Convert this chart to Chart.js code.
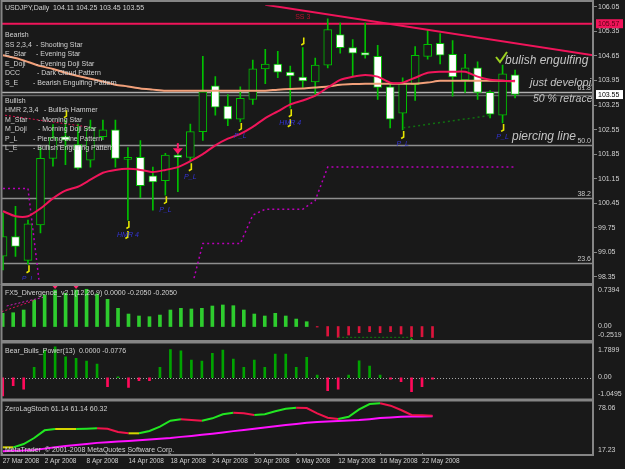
<!DOCTYPE html>
<html>
<head>
<meta charset="utf-8">
<title>USDJPY Daily</title>
<script src="https://cdn.jsdelivr.net/npm/chart.js@4.4.1/dist/chart.umd.min.js"></script>
<style>
  html, body { margin: 0; padding: 0; background: #191919; }
  #screen { position: relative; width: 625px; height: 469px; overflow: hidden; background: #191919; }
  #screen canvas { position: absolute; left: 0; }
</style>
</head>
<body>
<div id="screen">
  <canvas id="priceChart" width="625" height="285" style="top:0px"></canvas>
  <canvas id="macdChart" width="625" height="58" style="top:284px"></canvas>
  <canvas id="powerChart" width="625" height="58" style="top:342px"></canvas>
  <canvas id="stochChart" width="625" height="69" style="top:400px"></canvas>
</div>
<script>
// ---- data ----
const DATES = ['27 Mar 2008', '28 Mar 2008', '31 Mar 2008', '1 Apr 2008', '2 Apr 2008', '3 Apr 2008', '4 Apr 2008',
  '7 Apr 2008', '8 Apr 2008', '9 Apr 2008', '10 Apr 2008', '11 Apr 2008', '14 Apr 2008', '15 Apr 2008', '16 Apr 2008',
  '17 Apr 2008', '18 Apr 2008', '21 Apr 2008', '22 Apr 2008', '23 Apr 2008', '24 Apr 2008', '25 Apr 2008', '28 Apr 2008',
  '29 Apr 2008', '30 Apr 2008', '1 May 2008', '2 May 2008', '5 May 2008', '6 May 2008', '7 May 2008', '8 May 2008',
  '9 May 2008', '12 May 2008', '13 May 2008', '14 May 2008', '15 May 2008', '16 May 2008', '19 May 2008', '20 May 2008',
  '21 May 2008', '22 May 2008', '23 May 2008'];
const DATE_TICKS = [0, 4, 8, 12, 16, 20, 24, 28, 32, 36, 40];

const OPEN  = [98.94, 99.50, 98.82, 99.83, 101.73, 102.35, 102.12, 101.68, 102.35, 102.54, 101.70, 101.76, 101.23, 101.09,
  101.82, 101.76, 102.49, 103.80, 103.22, 102.85, 103.41, 104.28, 104.42, 104.19, 104.05, 103.91, 104.39, 105.26, 104.89,
  104.75, 104.64, 103.77, 103.02, 103.83, 104.64, 105.01, 104.70, 103.97, 104.31, 103.61, 102.96, 104.11];
const HIGH  = [100.17, 100.36, 99.97, 102.04, 102.69, 102.82, 102.71, 102.82, 102.82, 102.82, 102.04, 102.24, 101.48, 101.87,
  101.99, 102.71, 104.64, 104.06, 103.55, 103.77, 104.53, 104.84, 104.78, 104.36, 104.89, 104.59, 105.71, 105.59, 105.12,
  105.59, 104.95, 103.86, 104.03, 104.92, 105.40, 105.29, 105.09, 104.70, 104.48, 103.66, 104.39, 104.25];
const LOW   = [98.55, 98.93, 98.71, 99.60, 101.51, 101.55, 101.42, 101.48, 102.26, 101.48, 99.97, 100.61, 100.25, 100.68,
  100.78, 101.62, 102.24, 102.96, 102.66, 102.77, 103.27, 103.86, 104.03, 103.16, 103.75, 103.50, 104.31, 104.73, 104.08,
  104.59, 103.41, 102.60, 102.54, 103.38, 104.56, 104.42, 103.50, 103.61, 103.41, 102.88, 102.74, 103.45];
const CLOSE = [99.50, 99.22, 99.86, 101.73, 102.32, 102.25, 101.45, 102.60, 102.54, 101.73, 101.76, 100.95, 101.06, 101.82,
  101.76, 102.49, 103.63, 103.19, 102.85, 103.44, 104.28, 104.42, 104.19, 104.08, 103.94, 104.39, 105.40, 104.89, 104.73,
  104.67, 103.75, 102.85, 103.86, 104.67, 104.98, 104.67, 104.05, 104.31, 103.61, 102.99, 104.14, 103.55];

const MA_RED = [100.22, 100.08, 100.08, 100.30, 100.59, 100.81, 100.92, 101.12, 101.32, 101.40, 101.43, 101.40, 101.34,
  101.40, 101.48, 101.65, 101.85, 102.10, 102.29, 102.43, 102.63, 102.88, 103.07, 103.27, 103.38, 103.52, 103.75, 103.97,
  104.06, 104.11, 104.06, 103.89, 103.89, 104.03, 104.17, 104.20, 104.20, 104.20, 104.06, 103.97, 103.94, 103.94];
const MA_ORANGE = [104.67, 104.59, 104.48, 104.36, 104.28, 104.17, 104.08, 104.00, 103.92, 103.83, 103.78, 103.72, 103.69,
  103.66, 103.66, 103.66, 103.66, 103.66, 103.66, 103.66, 103.66, 103.66, 103.69, 103.71, 103.72, 103.75, 103.78, 103.83,
  103.85, 103.86, 103.86, 103.86, 103.86, 103.86, 103.89, 103.94, 103.94, 103.94, 103.94, 103.94, 103.94, 103.92];
const STOP_LINE = [100.87, 100.87, 100.87, 97.9, null, null, null, null, null, null, null, null, null, null, null,
  97.9, 99.30, 99.30, 99.30, 99.30, 100.11, 100.28, 100.28, 100.28, 100.28, 100.53, 101.48, 101.48, 101.48, 101.48,
  101.48, 101.48, 101.48, 101.48, 101.48, 101.48, 101.48, 101.48, 101.48, 101.48, 101.48, 101.48];

const PRICE_TICKS = [106.05, 105.35, 104.65, 103.95, 103.25, 102.55, 101.85, 101.15, 100.45, 99.75, 99.05, 98.35];
const FIB_LEVELS = [103.61, 102.11, 100.61, 98.75];
const FIB_NAMES = ['61.8', '50.0', '38.2', '23.6'];
const RESIST_LEVEL = 105.57;
const LAST_PRICE = 103.55;
const TREND_X = [21, 47.3], TREND_Y = [106.11, 104.67];
const DIV_X = [0.16, 6.73], DIV_Y = [102.96, 102.63];
const SUPPORT_X = [32.05, 39.13], SUPPORT_Y = [102.60, 102.96];
const BULL_BARS = [2, 10, 13, 15, 19, 23, 32, 40];
const BULL_TAGS = ['P_L', 'HMR 4', 'P_L', 'P_L', 'P_L', 'HMR 4', 'P_L', 'P_L'];
const BEAR_BARS = [5, 24];
const BEAR_TAGS = ['', 'SS 3'];
const SELL_BARS = [14];

const MACD_HIST = [0.247, 0.258, 0.309, 0.496, 0.590, 0.683, 0.622, 0.683, 0.697, 0.609, 0.509, 0.341, 0.234, 0.197,
  0.184, 0.215, 0.309, 0.341, 0.328, 0.341, 0.384, 0.403, 0.390, 0.309, 0.234, 0.197, 0.247, 0.197, 0.140, 0.090,
  -0.010, -0.178, -0.202, -0.159, -0.116, -0.097, -0.116, -0.097, -0.140, -0.191, -0.191, -0.205];
const MACD_AXIS = [0.7394, 0, -0.2519];
const MACD_DIV_A_X = [-0.1, 2.92], MACD_DIV_A_Y = [0.277, 0.483];
const MACD_DIV_B_X = [0.38, 3.85], MACD_DIV_B_Y = [0.384, 0.547];
const MACD_LOW_X = [32, 39], MACD_LOW_Y = [-0.202, -0.202];
const MACD_PEAK_BARS = [5, 7];
const MACD_BUY_BARS = [39];

const POWER = [-0.97, -0.42, -0.61, 0.55, 1.47, 1.64, 1.11, 1.03, 0.88, 0.72, -0.48, 0.05, -0.51, -0.16, -0.16, 0.55,
  1.50, 1.43, 0.94, 0.88, 1.29, 1.47, 0.99, 0.55, 0.94, 0.55, 1.25, 1.25, 0.55, 1.08, 0.14, -0.69, -0.61, 0.14, 0.90,
  0.62, 0.14, -0.08, -0.21, -0.74, -0.48, -0.08];
const POWER_AXIS = [1.7899, 0, -1.0495];

const STOCH_MAIN = [22.1, 22.1, 26.2, 33.6, 43.1, 44.7, 44.7, 44.7, 45.1, 45.6, 45.1, 41.0, 39.4, 39.4, 42.3, 47.6, 55.0,
  56.7, 55.8, 55.0, 57.9, 62.9, 64.9, 64.1, 62.0, 62.9, 66.6, 69.8, 71.0, 70.6, 64.1, 58.7, 57.1, 59.9, 69.0, 75.6, 76.5,
  73.5, 68.2, 62.0, 61.6, 61.14];
const STOCH_SIGNAL = [17.3, 18.0, 18.3, 18.9, 20.5, 22.2, 23.6, 24.9, 26.2, 27.6, 28.4, 29.2, 29.9, 30.8, 31.7, 32.6, 33.6,
  35.0, 36.2, 37.5, 39.0, 40.5, 42.1, 43.6, 45.1, 46.5, 48.0, 49.6, 51.0, 52.4, 53.4, 54.1, 54.6, 55.1, 55.8, 56.9, 58.2,
  59.0, 59.9, 60.1, 60.2, 60.32];
const STOCH_AXIS = [78.06, 17.23];

// ---- look ----
const BG = '#191919';
const FRAME = '#858585';
const TEXT = '#d2d2d2';
const FAMILY = 'Liberation Sans';
const SMALL = '7px "Liberation Sans"';
const CANDLE_EDGE = '#00c000';

Chart.defaults.font.family = FAMILY;

function series(arr) { return arr.map((v, i) => ({ x: i, y: v })); }
function pair(xs, ys) { return xs.map((v, i) => ({ x: v, y: ys[i] })); }

function label(ctx, s, x, y, color, font, align, base) {
  ctx.save();
  ctx.fillStyle = color;
  ctx.font = font || SMALL;
  ctx.textAlign = align || 'left';
  ctx.textBaseline = base || 'alphabetic';
  ctx.fillText(s, x, y);
  ctx.restore();
}

function hline(ctx, a, py, color, width) {
  ctx.save();
  ctx.strokeStyle = color;
  ctx.lineWidth = width;
  ctx.beginPath();
  ctx.moveTo(a.left, py);
  ctx.lineTo(a.right, py);
  ctx.stroke();
  ctx.restore();
}

function hook(ctx, px, py) {
  ctx.save();
  ctx.strokeStyle = '#e6e600';
  ctx.lineWidth = 1.6;
  ctx.beginPath();
  ctx.moveTo(px + 1, py - 4);
  ctx.lineTo(px + 1, py + 2);
  ctx.lineTo(px - 1.5, py + 3.5);
  ctx.stroke();
  ctx.restore();
}

function arrow(ctx, px, tip, dir, color, size) {
  // dir 1 = pointing down, -1 = pointing up
  ctx.save();
  ctx.fillStyle = color;
  const head = size * 0.55;
  ctx.fillRect(px - 1, tip - dir * size, 2, dir * (size - head));
  ctx.beginPath();
  ctx.moveTo(px - size * 0.45, tip - dir * head);
  ctx.lineTo(px + size * 0.45, tip - dir * head);
  ctx.lineTo(px, tip);
  ctx.closePath();
  ctx.fill();
  ctx.restore();
}

function frame(ctx, a, top, bottom) {
  ctx.save();
  ctx.strokeStyle = FRAME;
  ctx.lineWidth = 2;
  ctx.strokeRect(1.5, top, a.right - 1.5, bottom - top);
  ctx.restore();
}

function axisBox(ctx, a, y, value, fill, ink) {
  const py = y.getPixelForValue(value);
  ctx.save();
  ctx.fillStyle = fill;
  ctx.fillRect(a.right + 3, py - 4.5, 27, 9);
  ctx.restore();
  label(ctx, value.toFixed(2), a.right + 5, py + 0.5, ink, SMALL, 'left', 'middle');
}

// ---- price window ----
const BEARISH_KEYS = ['SS 2,3,4', 'E_Star', 'E_Doji', 'DCC', 'S_E'];
const BEARISH_DESC = ['- Shooting Star', '- Evening Star', '- Evening Doji Star', '- Dark Cloud Pattern', '- Bearish Engulfing Pattern'];
const BEARISH_DESC_X = [36, 36, 36, 37, 33];
const BULLISH_KEYS = ['HMR 2,3,4', 'M_Star', 'M_Doji', 'P_L', 'L_E'];
const BULLISH_DESC = ['- Bullish Hammer', '- Morning Star', '- Morning Doji Star', '- Piercing Line Pattern', '- Bullish Engulfing Pattern'];
const BULLISH_DESC_X = [44, 38, 38, 33, 33];

const priceDecor = {
  id: 'priceDecor',
  beforeDatasetsDraw(chart) {
    const { ctx, chartArea: a, scales: { y } } = chart;
    ctx.save();
    ctx.beginPath();
    ctx.rect(a.left, a.top, a.width, a.height);
    ctx.clip();
    FIB_LEVELS.forEach((lv, k) => {
      const py = Math.round(y.getPixelForValue(lv)) + 0.5;
      hline(ctx, a, py, k === 0 ? '#b0b0b0' : '#8e8e8e', 1.5);
      label(ctx, FIB_NAMES[k], a.right - 2, py - 2.5, '#c8c8c8', SMALL, 'right');
    });
    hline(ctx, a, Math.round(y.getPixelForValue(LAST_PRICE)) + 0.5, '#666666', 1.5);
    hline(ctx, a, y.getPixelForValue(RESIST_LEVEL), '#f0145a', 2);
    ctx.restore();
  },
  afterDatasetsDraw(chart) {
    const { ctx, chartArea: a, scales: { x, y } } = chart;
    ctx.save();
    ctx.beginPath();
    ctx.rect(a.left, a.top, a.width, a.height);
    ctx.clip();

    // pattern marks
    BULL_BARS.forEach((b, k) => {
      const px = x.getPixelForValue(b);
      const py = y.getPixelForValue(LOW[b]);
      hook(ctx, px, py + 5);
      if (BULL_TAGS[k].startsWith('HMR')) hook(ctx, px - 1, py + 15);
      label(ctx, BULL_TAGS[k], px, py + 16.5, '#3434d8', 'italic 7px "Liberation Sans"', 'center');
    });
    BEAR_BARS.forEach((b, k) => {
      const px = x.getPixelForValue(b);
      const py = y.getPixelForValue(HIGH[b]);
      hook(ctx, px, py - 6);
      if (BEAR_TAGS[k]) label(ctx, BEAR_TAGS[k], px, py - 29, '#b4102e', SMALL, 'center');
    });
    SELL_BARS.forEach(b => {
      const px = x.getPixelForValue(b);
      arrow(ctx, px, y.getPixelForValue(Math.max(OPEN[b], CLOSE[b])) - 1, 1, '#ff1a68', 11);
    });

    // hand written notes
    const ink = '#c4c4c4';
    label(ctx, 'bulish engulfing', 505, 64, ink, 'italic 12px "Liberation Sans"');
    label(ctx, 'just developing', 530, 86, ink, 'italic 11px "Liberation Sans"');
    label(ctx, '50 % retrace', 533, 102, ink, 'italic 10.5px "Liberation Sans"');
    label(ctx, 'piercing line', 512, 140, ink, 'italic 12px "Liberation Sans"');
    ctx.strokeStyle = '#9ad020';
    ctx.lineWidth = 2;
    ctx.beginPath();
    ctx.moveTo(496, 57);
    ctx.lineTo(500, 62);
    ctx.lineTo(507, 52);
    ctx.stroke();
    ctx.restore();

    // header and legend
    label(ctx, 'USDJPY,Daily  104.11 104.25 103.45 103.55', 5, 10, TEXT);
    label(ctx, 'Bearish', 5, 37, TEXT);
    BEARISH_KEYS.forEach((k, i) => {
      label(ctx, k, 5, 46.5 + i * 9.5, TEXT);
      label(ctx, BEARISH_DESC[i], BEARISH_DESC_X[i], 46.5 + i * 9.5, TEXT);
    });
    label(ctx, 'Bullish', 5, 102.5, TEXT);
    BULLISH_KEYS.forEach((k, i) => {
      label(ctx, k, 5, 112 + i * 9.5, TEXT);
      label(ctx, BULLISH_DESC[i], BULLISH_DESC_X[i], 112 + i * 9.5, TEXT);
    });

    frame(ctx, a, 1, 284);
  },
  afterDraw(chart) {
    const { ctx, chartArea: a, scales: { y } } = chart;
    axisBox(ctx, a, y, RESIST_LEVEL, '#f0145a', '#5a0012');
    axisBox(ctx, a, y, LAST_PRICE, '#ffffff', '#000000');
  }
};

new Chart(document.getElementById('priceChart'), {
  type: 'bar',
  data: {
    datasets: [
      { type: 'line', data: series(MA_RED), borderColor: '#f0155a', borderWidth: 2, pointRadius: 0, tension: 0.25, order: 0 },
      { type: 'line', data: series(MA_ORANGE), borderColor: '#f2a07a', borderWidth: 2, pointRadius: 0, tension: 0.25, order: 1 },
      { type: 'line', data: series(STOP_LINE), borderColor: '#b800b8', borderWidth: 1.5, borderDash: [2, 3], pointRadius: 0, spanGaps: false, order: 1 },
      { type: 'line', data: pair(TREND_X, TREND_Y), borderColor: '#f0145a', borderWidth: 2, pointRadius: 0, order: 0 },
      { type: 'line', data: pair(DIV_X, DIV_Y), borderColor: '#e0104c', borderWidth: 1, borderDash: [2, 2], pointRadius: 0, order: 0 },
      { type: 'line', data: pair(SUPPORT_X, SUPPORT_Y), borderColor: '#107010', borderWidth: 1.5, borderDash: [2, 3], pointRadius: 0, order: 0 },
      {
        data: OPEN.map((o, i) => ({ x: i, y: [o, CLOSE[i]] })),
        backgroundColor: OPEN.map((o, i) => CLOSE[i] < o ? '#ffffff' : BG),
        borderColor: CANDLE_EDGE, borderWidth: 1, borderSkipped: false,
        barThickness: 8, grouped: false, order: 2
      },
      {
        data: LOW.map((l, i) => ({ x: i, y: [l, HIGH[i]] })),
        backgroundColor: CANDLE_EDGE, barThickness: 1, grouped: false, order: 3
      }
    ]
  },
  options: {
    responsive: false,
    animation: false,
    events: [],
    layout: { padding: { left: 2, top: 3, bottom: 2, right: 0 } },
    plugins: { legend: { display: false }, tooltip: { enabled: false } },
    scales: {
      x: { type: 'linear', display: false, offset: false, min: -0.08, max: 47.24 },
      y: {
        position: 'right', min: 98.266, max: 106.098,
        afterBuildTicks: s => { s.ticks = PRICE_TICKS.map(v => ({ value: v })); },
        afterFit: s => { s.width = 32; },
        grid: { drawOnChartArea: false, color: FRAME, tickLength: 4 },
        border: { color: FRAME },
        ticks: { color: TEXT, font: { family: FAMILY, size: 7 }, padding: 1, autoSkip: false, callback: v => v.toFixed(2) }
      }
    }
  },
  plugins: [priceDecor]
});

// ---- indicator windows ----
function panelDecor(title, axis, offsets, top, bottom, extra) {
  return {
    id: 'panelDecor',
    afterDatasetsDraw(chart) {
      const { ctx, chartArea: a, scales: { y } } = chart;
      if (extra) extra(chart);
      frame(ctx, a, top, bottom);
      label(ctx, title, 5, 11, TEXT);
      axis.forEach((v, i) => {
        label(ctx, v === 0 ? '0.00' : String(v), a.right + 5, y.getPixelForValue(v) + offsets[i], TEXT, SMALL, 'left', 'middle');
      });
    }
  };
}

function indicatorOptions(yMin, yMax, padTop, padBottom, showDates) {
  const x = { type: 'linear', display: showDates, offset: false, min: -0.067, max: 56.31 };
  if (showDates) {
    Object.assign(x, {
      afterBuildTicks: s => { s.ticks = DATE_TICKS.map(v => ({ value: v })); },
      afterFit: s => { s.height = 16; },
      grid: { drawOnChartArea: false, color: FRAME, tickLength: 3 },
      border: { display: false },
      ticks: {
        color: TEXT, font: { family: FAMILY, size: 6.5 }, padding: 1, align: 'start',
        maxRotation: 0, autoSkip: false, callback: v => DATES[v]
      }
    });
  }
  return {
    responsive: false,
    animation: false,
    events: [],
    layout: { padding: { left: 2, top: padTop, bottom: padBottom, right: 0 } },
    plugins: { legend: { display: false }, tooltip: { enabled: false } },
    scales: {
      x,
      y: {
        position: 'right', min: yMin, max: yMax,
        afterFit: s => { s.width = 32; },
        grid: { display: false },
        border: { display: false },
        ticks: { display: false }
      }
    }
  };
}

const macdExtras = chart => {
  const { ctx, scales: { x, y } } = chart;
  MACD_PEAK_BARS.forEach(b => arrow(ctx, x.getPixelForValue(b), y.getPixelForValue(MACD_HIST[b]) - 1, 1, '#ff2a70', 7));
  MACD_BUY_BARS.forEach(b => arrow(ctx, x.getPixelForValue(b), y.getPixelForValue(MACD_HIST[b]) + 1, -1, '#20b020', 6));
};

new Chart(document.getElementById('macdChart'), {
  type: 'bar',
  data: {
    datasets: [
      { type: 'line', data: pair(MACD_DIV_A_X, MACD_DIV_A_Y), borderColor: '#e0105a', borderWidth: 1, borderDash: [2, 2], pointRadius: 0 },
      { type: 'line', data: pair(MACD_DIV_B_X, MACD_DIV_B_Y), borderColor: '#d020c0', borderWidth: 1, borderDash: [2, 2], pointRadius: 0 },
      { type: 'line', data: pair(MACD_LOW_X, MACD_LOW_Y), borderColor: '#108010', borderWidth: 1, borderDash: [2, 2], pointRadius: 0 },
      { data: series(MACD_HIST.map(v => v >= 0 ? v : null)), backgroundColor: '#2ecc2e', barThickness: 3, grouped: false },
      { data: series(MACD_HIST.map(v => v < 0 ? v : null)), backgroundColor: '#dc143c', barThickness: 2, grouped: false }
    ]
  },
  options: indicatorOptions(-0.2519, 0.7394, 3, 2, false),
  plugins: [panelDecor('FX5_Divergence_v2.1(12,26,9) 0.0000 -0.2050 -0.2050', MACD_AXIS, [3, -0.5, -5], 1, 57, macdExtras)]
});

const zeroDots = chart => {
  const { ctx, chartArea: a, scales: { y } } = chart;
  ctx.save();
  ctx.strokeStyle = '#a8a8a8';
  ctx.lineWidth = 1;
  ctx.setLineDash([1, 2]);
  const py = Math.round(y.getPixelForValue(0)) + 0.5;
  ctx.beginPath();
  ctx.moveTo(a.left, py);
  ctx.lineTo(a.right, py);
  ctx.stroke();
  ctx.restore();
};

new Chart(document.getElementById('powerChart'), {
  type: 'bar',
  data: {
    datasets: [
      { data: series(POWER.map(v => v >= 0 ? v : null)), backgroundColor: '#00a400', barThickness: 2, grouped: false },
      { data: series(POWER.map(v => v < 0 ? v : null)), backgroundColor: '#ff0a5a', barThickness: 2, grouped: false }
    ]
  },
  options: indicatorOptions(-1.0495, 1.7899, 2, 2.5, false),
  plugins: [
    { id: 'zeroDots', beforeDatasetsDraw: zeroDots },
    panelDecor('Bear_Bulls_Power(13)  0.0000 -0.0776', POWER_AXIS, [6, -0.4, -3.5], 0.5, 57.5)
  ]
});

const stochColor = c => {
  const d = c.p1.parsed.y - c.p0.parsed.y;
  return d > 0.3 ? '#22e622' : d < -0.3 ? '#f0144c' : '#d4d400';
};

new Chart(document.getElementById('stochChart'), {
  type: 'line',
  data: {
    datasets: [
      { data: series(STOCH_MAIN), borderColor: '#22e622', segment: { borderColor: stochColor }, borderWidth: 2, pointRadius: 0 },
      { data: series(STOCH_SIGNAL), borderColor: '#ff10ff', borderWidth: 2, pointRadius: 0 }
    ]
  },
  options: indicatorOptions(15.1, 78.06, 2, 0, true),
  plugins: [
    panelDecor('ZeroLagStoch 61.14 61.14 60.32', STOCH_AXIS, [5.7, -1.3], 0.5, 55, chart => {
      label(chart.ctx, 'MetaTrader  \u00a9 2001-2008 MetaQuotes Software Corp.', 5, 51.5, TEXT);
    })
  ]
});
</script>
</body>
</html>
